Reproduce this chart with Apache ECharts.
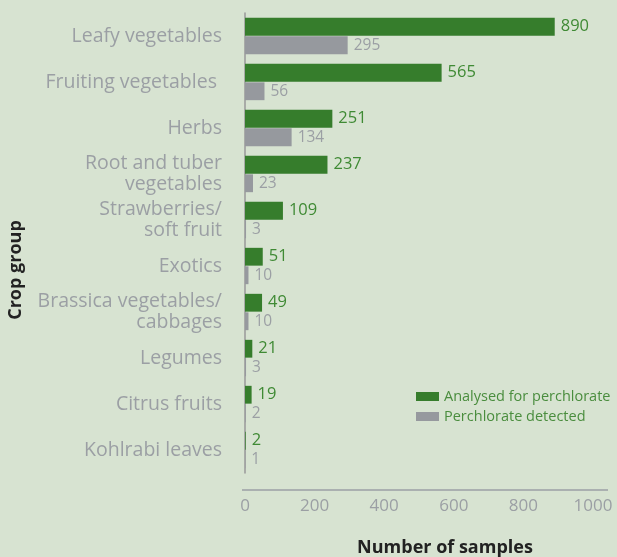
<!DOCTYPE html>
<html><head><meta charset="utf-8">
<script src="https://cdn.jsdelivr.net/npm/echarts@6/dist/echarts.min.js"></script>
<style>html,body{margin:0;padding:0;background:#d7e3d1;}#c{width:617px;height:557px;}</style>
</head><body><div id="c"></div>
<script>
const categories = ["Leafy vegetables","Fruiting vegetables ","Herbs","Root and tuber\nvegetables","Strawberries/\nsoft fruit","Exotics","Brassica vegetables/\ncabbages","Legumes","Citrus fruits","Kohlrabi leaves"];
const analysed = [890,565,251,237,109,51,49,21,19,2];
const detected = [295,56,134,23,3,10,10,3,2,1];
const xTicks = [0,200,400,600,800,1000];

const font = "'Open Sans', sans-serif";
const chart = echarts.init(document.getElementById('c'), null, {renderer:'canvas'});
chart.setOption({
  backgroundColor:'#d7e3d1',
  animation:false,
  grid:{left:245,right:24,top:13,bottom:84,containLabel:false},
  legend:{
    left:411, top:384, orient:'vertical', itemWidth:23, itemHeight:9, itemGap:5,
    icon:'rect',
    textStyle:{color:'#4a8d3e', fontSize:14.5, fontFamily:font},
    data:['Analysed for perchlorate','Perchlorate detected']
  },
  xAxis:{
    type:'value', min:0, max:1000, interval:200, offset:17,
    axisLine:{show:false}, axisTick:{show:false}, splitLine:{show:false},
    axisLabel:{color:'#9b9fa4', fontSize:17, fontFamily:font, margin:8,
      formatter:v=>xTicks.includes(v)?String(v):''}
  },
  yAxis:{
    type:'category', data:categories, inverse:true, offset:6,
    axisLine:{show:true, lineStyle:{color:'#999', width:1.5}},
    axisTick:{show:false},
    axisLabel:{color:'#9b9fa4', fontSize:19.5, fontFamily:font, margin:17, lineHeight:21, align:'right'}
  },
  graphic:[
    {type:'line', shape:{x1:242,y1:490,x2:608,y2:490}, style:{stroke:'#9b9fa4', lineWidth:1.5}},
    {type:'text', x:445, y:548, style:{text:'Number of samples', fill:'#222', font:"bold 18px 'Open Sans', sans-serif", textAlign:'center', textVerticalAlign:'middle'}},
    {type:'text', x:16, y:270, rotation:Math.PI/2, style:{text:'Crop group', fill:'#222', font:"bold 18px 'Open Sans', sans-serif", textAlign:'center', textVerticalAlign:'middle'}}
  ],
  series:[
    {name:'Analysed for perchlorate', type:'bar', data:analysed, barGap:'4%', barCategoryGap:'21%',
     itemStyle:{color:'#367d2c'},
     label:{show:true, position:'right', distance:6, color:'#3f8a34', fontSize:16.5, fontFamily:font}},
    {name:'Perchlorate detected', type:'bar', data:detected,
     itemStyle:{color:'#96999e'},
     label:{show:true, position:'right', distance:6, color:'#9b9fa4', fontSize:15.5, fontFamily:font}}
  ]
});
</script></body></html>
